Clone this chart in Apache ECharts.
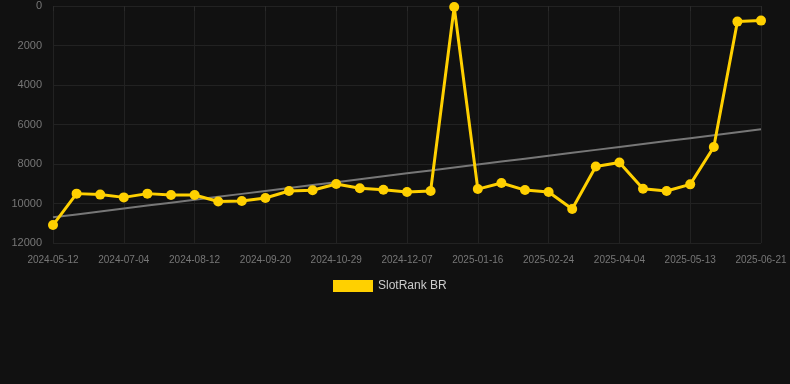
<!DOCTYPE html>
<html><head><meta charset="utf-8">
<script src="https://cdn.jsdelivr.net/npm/echarts@6/dist/echarts.min.js"></script>
<style>html,body{margin:0;padding:0;background:#111111;}#c{width:790px;height:384px;}</style>
</head><body><div id="c"></div>
<script>
const categories = ['2024-05-12','2024-05-30','2024-06-17','2024-07-04','2024-07-17','2024-07-30','2024-08-12','2024-08-25','2024-09-07','2024-09-20','2024-10-03','2024-10-16','2024-10-29','2024-11-11','2024-11-24','2024-12-07','2024-12-20','2025-01-02','2025-01-16','2025-01-29','2025-02-11','2025-02-24','2025-03-09','2025-03-22','2025-04-04','2025-04-17','2025-04-30','2025-05-13','2025-05-26','2025-06-08','2025-06-21'];
const rankValues = [11090,9500,9550,9690,9500,9570,9570,9900,9870,9720,9370,9330,9010,9230,9300,9420,9370,50,9270,8960,9320,9420,10280,8130,7920,9250,9370,9030,7140,790,740];
const yTicks = [0,2000,4000,6000,8000,10000,12000];
const seriesName = 'SlotRank BR';

// linear trend from the data
const n = rankValues.length;
let sx=0, sy=0, sxy=0, sxx=0;
rankValues.forEach((v,i)=>{sx+=i;sy+=v;sxy+=i*v;sxx+=i*i;});
const slope=(n*sxy-sx*sy)/(n*sxx-sx*sx);
const icpt=(sy-slope*sx)/n;
const trend = rankValues.map((v,i)=>+(icpt+slope*i).toFixed(1));

const chart = echarts.init(document.getElementById('c'));
chart.setOption({
  backgroundColor:'#111111',
  animation:false,
  grid:{left:53,right:29,top:6,bottom:141},
  legend:{
    data:[{name:seriesName,icon:'rect'}],
    bottom:87,left:328,itemWidth:40,itemHeight:12,itemGap:10,
    textStyle:{color:'#cccccc',fontSize:12,fontFamily:'Arial, Liberation Sans, sans-serif'}
  },
  xAxis:{
    type:'category',data:categories,boundaryGap:false,
    axisLine:{show:false},
    axisTick:{show:true,interval:2,alignWithLabel:true,lineStyle:{color:'#2a2a2a'}},
    axisLabel:{interval:2,color:'#777777',fontSize:10,margin:12,fontFamily:'Arial, Liberation Sans, sans-serif'},
    splitLine:{show:true,interval:2,lineStyle:{color:'#222222'}}
  },
  yAxis:{
    type:'value',inverse:true,min:yTicks[0],max:yTicks[yTicks.length-1],interval:2000,
    axisLine:{show:false},axisTick:{show:false},
    axisLabel:{color:'#777777',fontSize:11,margin:11,formatter:v=>String(v),fontFamily:'Arial, Liberation Sans, sans-serif'},
    splitLine:{lineStyle:{color:'#222222'}}
  },
  series:[
    {name:'trend',type:'line',data:trend,symbol:'none',silent:true,
     lineStyle:{color:'#777777',width:2},z:1},
    {name:seriesName,type:'line',data:rankValues,symbol:'circle',symbolSize:10,
     itemStyle:{color:'#FFD000'},lineStyle:{color:'#FFD000',width:3},z:2}
  ]
});
</script></body></html>
